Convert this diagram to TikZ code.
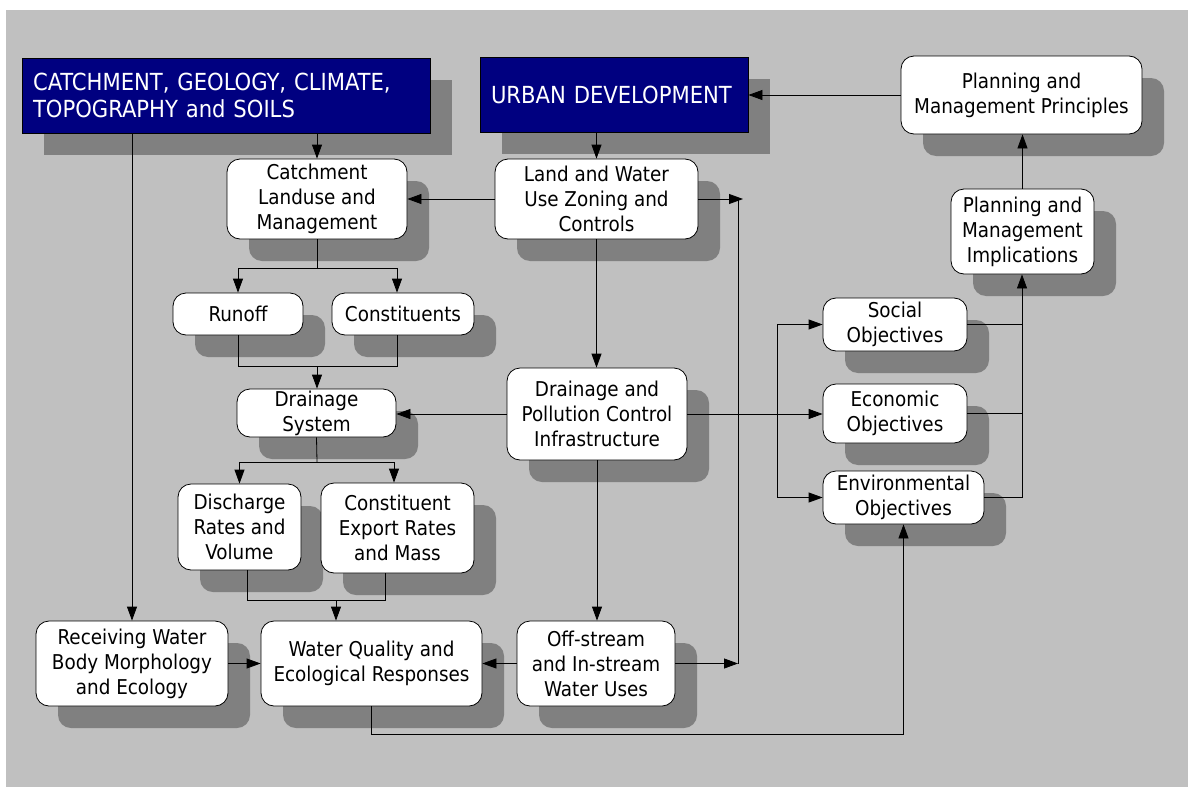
\documentclass[tikz,border=0pt]{standalone}
\usepackage{fontspec}
\IfFontExistsTF{DejaVu Sans Condensed}{%
  \setmainfont{DejaVu Sans Condensed}%
  \newcommand\wbfont{\fontsize{20.4}{25}\selectfont}%
  \newcommand\blfont{\fontsize{23.5}{26.5}\selectfont}%
}{%
  \setmainfont{DejaVu Sans}%
  \newcommand\wbfont{\fontsize{18.4}{25}\selectfont}%
  \newcommand\blfont{\fontsize{21.2}{26.5}\selectfont}%
}
\usetikzlibrary{arrows.meta,shadows,calc}
\definecolor{bggrey}{HTML}{C0C0C0}
\definecolor{shade}{HTML}{808080}
\definecolor{navyblue}{HTML}{000080}
\begin{document}
\begin{tikzpicture}[x=1pt,y=-1pt,
  wbox/.style={draw=black, line width=0.8pt, fill=white, rounded corners=13pt,
    align=center, inner sep=0pt, font=\wbfont,
    drop shadow={shadow xshift=22pt, shadow yshift=-22pt, fill=shade, opacity=1}},
  bbox/.style={draw=black, line width=0.8pt, fill=navyblue, text=white,
    align=left, inner xsep=11pt, inner ysep=0pt, font=\blfont,
    drop shadow={shadow xshift=22pt, shadow yshift=-22pt, fill=shade, opacity=1}},
  arr/.style={-{Triangle[length=14pt,width=10pt]}, line width=0.8pt},
  ln/.style={line width=0.8pt}]
\useasboundingbox (0,0) rectangle (1188,787);
\fill[white] (0,0) rectangle (1188,787);
\fill[bggrey] (6,10) rectangle (1188,787);

% blue boxes
\node[bbox, text width=386pt, minimum height=75pt] (cat) at (226,95.5)
  {CATCHMENT, GEOLOGY, CLIMATE,\\TOPOGRAPHY and SOILS};
\node[bbox, text width=246pt, minimum height=75pt] (urban) at (614,94.5)
  {URBAN DEVELOPMENT};

% white boxes
\node[wbox, minimum width=241pt, minimum height=78pt] (princ) at (1021.5,95)
  {Planning and\\Management Principles};
\node[wbox, minimum width=180pt, minimum height=80pt] (landuse) at (317,199)
  {Catchment\\Landuse and\\Management};
\node[wbox, minimum width=203pt, minimum height=80pt] (zoning) at (596.5,199)
  {Land and Water\\Use Zoning and\\Controls};
\node[wbox, minimum width=143pt, minimum height=85pt] (impl) at (1022.5,231.5)
  {Planning and\\Management\\Implications};
\node[wbox, minimum width=130pt, minimum height=42pt] (runoff) at (238,314)
  {Runoff};
\node[wbox, minimum width=142pt, minimum height=42pt] (const) at (403,314)
  {Constituents};
\node[wbox, minimum width=144pt, minimum height=53pt] (social) at (895,324.5)
  {Social\\Objectives};
\node[wbox, minimum width=144pt, minimum height=59pt] (econ) at (895,413.5)
  {Economic\\Objectives};
\node[wbox, minimum width=161pt, minimum height=53pt] (env) at (903.5,497.5)
  {Environmental\\Objectives};
\node[wbox, minimum width=159pt, minimum height=48pt] (drain) at (316.5,413)
  {Drainage\\System};
\node[wbox, minimum width=180pt, minimum height=92pt] (dpci) at (597,414)
  {Drainage and\\Pollution Control\\Infrastructure};
\node[wbox, minimum width=123pt, minimum height=86pt] (disch) at (239.5,527)
  {Discharge\\Rates and\\Volume};
\node[wbox, minimum width=153pt, minimum height=90pt] (export) at (397.5,528)
  {Constituent\\Export Rates\\and Mass};
\node[wbox, minimum width=192pt, minimum height=85pt] (recv) at (132,663.5)
  {Receiving Water\\Body Morphology\\and Ecology};
\node[wbox, minimum width=221pt, minimum height=85pt] (wq) at (371.5,663.5)
  {Water Quality and\\Ecological Responses};
\node[wbox, minimum width=158pt, minimum height=85pt] (offs) at (596,663.5)
  {Off-stream\\and In-stream\\Water Uses};

% connectors
\draw[arr] (landuse.north |- cat.south) -- (landuse.north);
\draw[arr] (recv.north |- cat.south) -- (recv.north);
\draw[arr] (zoning.north |- urban.south) -- (zoning.north);
\draw[arr] (princ.west) -- (princ.west -| urban.east);
\draw[arr] (zoning.west) -- (landuse.east);
\coordinate (zr) at (743,199);
\draw[arr] (zoning.east) -- (zr);
\draw[arr] (zoning.south) -- (zoning.south |- dpci.north);

\coordinate (s1) at (317,268);
\draw[ln] (landuse.south) -- (s1);
\draw[arr] (s1) -| (runoff.north);
\draw[arr] (s1) -| ([xshift=-6pt]const.north);

\coordinate (m1) at (317,366);
\draw[ln] (runoff.south) |- (m1);
\draw[ln] ([xshift=-6pt]const.south) |- (m1);
\draw[arr] (m1) -- (m1 |- drain.north);

\draw[arr] (dpci.west) -- (dpci.west -| drain.east);

\coordinate (s2) at (317,462);
\draw[ln] (drain.south) -- (s2);
\draw[arr] (s2) -| (disch.north);
\draw[arr] (s2) -| ([xshift=-3.5pt]export.north);

\coordinate (m2) at (336,600);
\draw[ln] ([xshift=7.5pt]disch.south) |- (m2);
\draw[ln] ([xshift=-12.5pt]export.south) |- (m2);
\draw[arr] (m2) -- (m2 |- wq.north);

\draw[arr] (recv.east) -- (wq.west);
\draw[arr] (offs.west) -- (wq.east);
\draw[arr] (dpci.south) -- (dpci.south |- offs.north);

\coordinate (vr) at (738,663.5);
\draw[arr] (offs.east) -- (vr);
\draw[ln] (vr) -- (vr |- zoning.east);

\draw[arr] (dpci.east) -- (dpci.east -| econ.west);

\coordinate (ol) at (777,414);
\draw[ln] (ol |- social.west) -- (ol |- env.west);
\draw[arr] (ol |- social.west) -- (social.west);
\draw[arr] (ol |- env.west) -- (env.west);

\coordinate (orr) at (1022,414);
\draw[ln] (social.east) -- (social.east -| orr);
\draw[ln] (econ.east) -- (econ.east -| orr);
\draw[ln] (env.east) -- (env.east -| orr);
\draw[arr] (env.east -| orr) -- (orr |- impl.south);
\draw[arr] (impl.north) -- (impl.north |- princ.south);

\coordinate (bl) at (0,734);
\draw[arr] (wq.south) -- (wq.south |- bl) -| (env.south);
\end{tikzpicture}
\end{document}
